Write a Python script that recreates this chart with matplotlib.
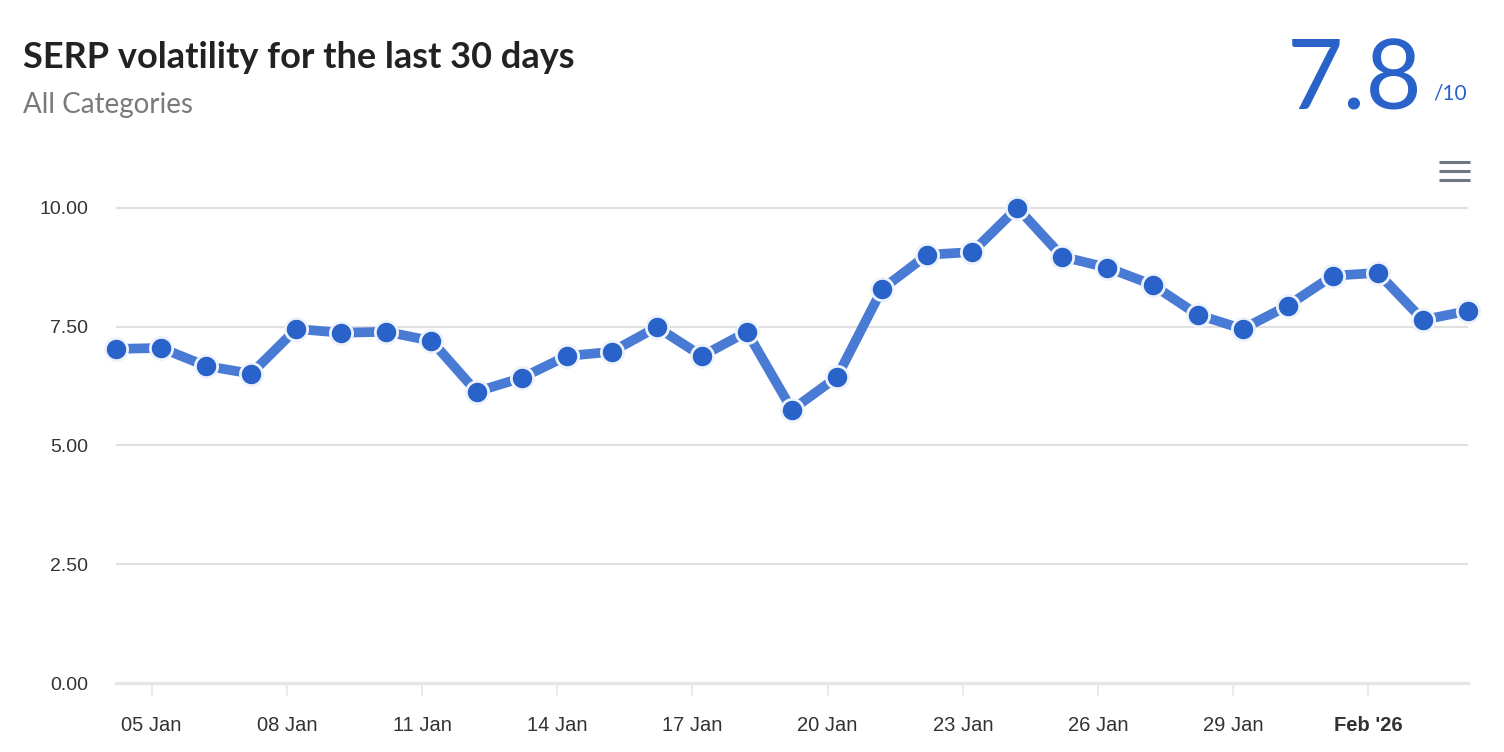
import numpy as np
import matplotlib
matplotlib.use('Agg')
import matplotlib.pyplot as plt
import matplotlib.dates as mdates
from datetime import datetime, timedelta

# daily volatility score, 04 Jan - 03 Feb 2026
start_day = datetime(2026, 1, 4, 5)
volatility = [7.03, 7.05, 6.67, 6.51, 7.45, 7.37, 7.39, 7.20, 6.13, 6.42,
              6.88, 6.97, 7.49, 6.88, 7.39, 5.75, 6.44, 8.29, 9.01, 9.07,
              10.00, 8.97, 8.74, 8.38, 7.75, 7.45, 7.94, 8.57, 8.63, 7.64, 7.83]
days = [start_day + timedelta(days=i) for i in range(len(volatility))]

tick_days = [datetime(2026, 1, d) for d in (5, 8, 11, 14, 17, 20, 23, 26, 29)] + [datetime(2026, 2, 1)]
tick_labels = ['05 Jan', '08 Jan', '11 Jan', '14 Jan', '17 Jan', '20 Jan',
               '23 Jan', '26 Jan', '29 Jan', "Feb '26"]
y_ticks = [0, 2.5, 5, 7.5, 10]
score = '7.8'

W, H = 1504, 752
fig = plt.figure(figsize=(W / 100, H / 100), dpi=100)
fig.patch.set_facecolor('white')

top_val = 10.9
ax = fig.add_axes([116 / W, 1 - 683 / H, (1468 - 116) / W, (683 - 165) / H])
ax.set_ylim(0, top_val)
ax.set_xlim(mdates.date2num(days[0]), mdates.date2num(days[-1]))

for s in ax.spines.values():
    s.set_visible(False)

for y in y_ticks[1:]:
    ax.axhline(y, color='#e0e0e0', lw=1.5, zorder=0)
ax.axhline(0, color='#e6e6e6', lw=2.5, zorder=0, clip_on=False)

ax.plot(days, volatility, color='#4a7bd4', lw=7, solid_joinstyle='round',
        solid_capstyle='round', zorder=2, clip_on=False)
ax.plot(days, volatility, ls='none', marker='o', ms=16, mfc='#2962c9',
        mec='#eef3fb', mew=2, zorder=3, clip_on=False)

ax.set_yticks(y_ticks)
ax.set_yticklabels(['%.2f' % v for v in y_ticks], fontsize=14, color='#333333',
                   family='Liberation Sans')
ax.tick_params(axis='y', length=0, pad=20)

ax.set_xticks([mdates.date2num(d) for d in tick_days])
ax.set_xticklabels(tick_labels, fontsize=14.5, color='#333333', family='Liberation Sans')
ax.tick_params(axis='x', length=9, width=1.2, color='#e6e6e6', pad=15)
ax.get_xticklabels()[-1].set_fontweight('bold')

# header
fig.text(23 / W, 1 - 57 / H, 'SERP volatility for the last 30 days', fontsize=26,
         fontweight='bold', color='#222222', family='Lato', va='center')
fig.text(23 / W, 1 - 105 / H, 'All Categories', fontsize=20, color='#7a7a7a',
         family='Lato', va='center')
fig.text(1423 / W, 1 - 110 / H, score, fontsize=70, color='#2962c9',
         family='Lato', ha='right', va='baseline')
fig.text(1433 / W, 1 - 99 / H, '/10', fontsize=15, color='#2962c9',
         family='Lato', ha='left', va='baseline')

# menu icon
for yy in (162, 171, 180):
    fig.add_artist(plt.Line2D([1439 / W, 1470 / W], [1 - yy / H, 1 - yy / H],
                              color='#6e7683', lw=2.2, solid_capstyle='butt'))

fig.savefig('out.png', dpi=100)
